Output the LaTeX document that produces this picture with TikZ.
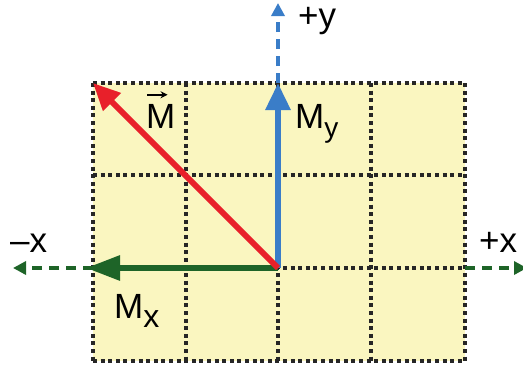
\documentclass[tikz,border=0pt]{standalone}
\usepackage{fontspec}
\setmainfont{Liberation Sans}
\usetikzlibrary{arrows.meta}
\definecolor{gridfill}{RGB}{250,246,192}
\definecolor{redC}{RGB}{232,32,42}
\definecolor{blueC}{RGB}{58,125,200}
\definecolor{greenC}{RGB}{30,100,40}
\begin{document}
\begin{tikzpicture}[x=1pt,y=-1pt,
  lbl/.style={inner sep=0pt, font=\fontsize{35}{40}\selectfont},
  gridline/.style={draw=black!85, line width=3.2pt, dash pattern=on 4pt off 3.6pt},
  vecline/.style={line width=6pt},
  axisline/.style={line width=3.5pt, dash pattern=on 10pt off 7pt},
  bighead/.style={-{Triangle[length=27pt,width=24pt]}},
  smallhead/.style={-{Triangle[length=13pt,width=13pt]}}]
\useasboundingbox (0,0) rectangle (523,370);
\coordinate (O) at (278,268);
\coordinate (TL) at (93,83);
\coordinate (BR) at (465,361);
\coordinate (Ya) at (278,83);
\coordinate (Ytop) at (278,3);
\coordinate (XlA) at (93,268);
\coordinate (Xl) at (13,268);
\coordinate (XrA) at (465,268);
\coordinate (Xr) at (527,268);
\coordinate (Mxtip) at (86,268);
\fill[gridfill] (TL) rectangle (BR);
\foreach \x in {93,186,278,371,465} \draw[gridline] (\x,83) -- (\x,361);
\foreach \y in {83,175,268,361} \draw[gridline] (93,\y) -- (465,\y);
% axes
\draw[axisline, blueC, smallhead] (Ya) -- (Ytop);
\draw[axisline, greenC, smallhead] (XlA) -- (Xl);
\draw[axisline, greenC, smallhead] (XrA) -- (Xr);
% vectors
\draw[vecline, greenC, -{Triangle[length=34pt,width=24pt]}] (O) -- (Mxtip);
\draw[vecline, blueC, bighead] (O) -- (Ya);
\draw[vecline, redC, bighead] (O) -- (TL);
% labels
\node[lbl, anchor=base west] (py) at (298,27) {+y};
\node[lbl, anchor=base west] (nx) at (10,252) {–x};
\node[lbl, anchor=base west] (px) at (479,252) {+x};
\node[lbl, anchor=base west] (My) at (295,128) {M\raisebox{-9pt}{\fontsize{28}{28}\selectfont y}};
\node[lbl, anchor=base west] (Mv) at (146,128) {M};
\draw[line width=2pt, -{Stealth[length=7pt,width=7pt]}] ([shift={(1,-9)}]Mv.north west) -- ([shift={(-8,-9)}]Mv.north east);
\node[lbl, anchor=base west] (Mx) at (114,318) {M\raisebox{-9pt}{\fontsize{32}{32}\selectfont x}};
\end{tikzpicture}
\end{document}
